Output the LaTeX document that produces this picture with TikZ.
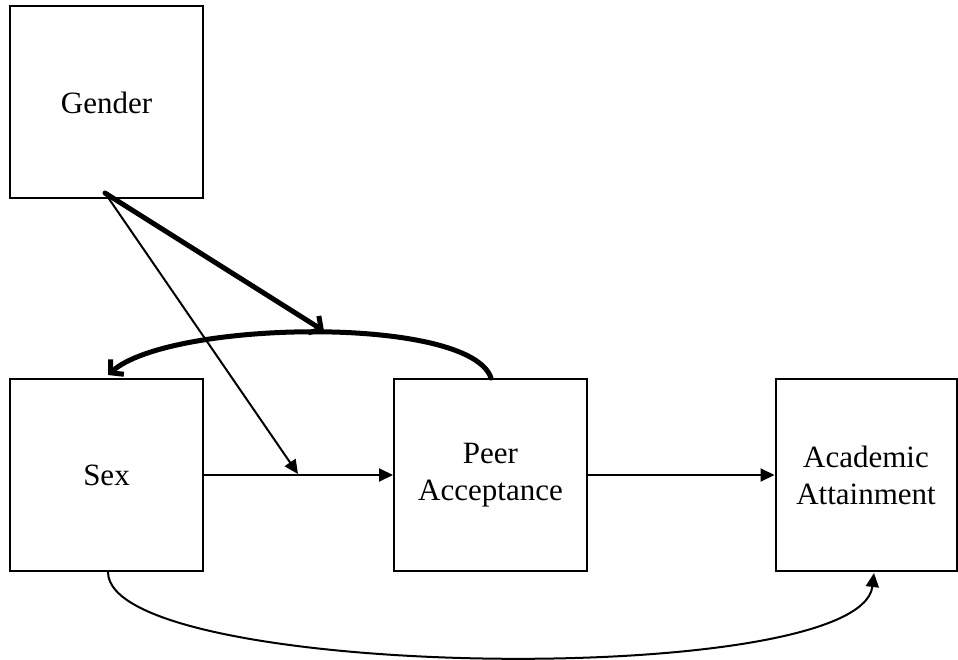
\documentclass[tikz,border=0pt]{standalone}
\usepackage{fontspec}
\setmainfont{Liberation Serif}
\usetikzlibrary{arrows.meta}
\begin{document}
\begin{tikzpicture}[x=1pt,y=-1pt,
  box/.style={draw,line width=2pt,inner sep=0pt,align=center,
    minimum width=193pt,minimum height=192pt,
    font=\fontsize{31}{37}\selectfont},
  thinarrow/.style={line width=2pt,-{Triangle[length=14pt,width=13pt]}},
  thickarrow/.style={line width=5pt,line cap=round,-{Straight Barb[length=9pt,width=20pt,line width=5pt]}}]
\useasboundingbox (0,0) rectangle (958,660);
\node[box] (gender) at (106.5,102.5) {Gender};
\node[box] (sex) at (106.5,475) {Sex};
\node[box] (peer) at (490.5,475) {Peer\\Acceptance};
\node[box,minimum width=181pt] (acad) at (866,475) {Academic\\Attainment};
\coordinate (g0) at (105,193);
\coordinate (mid) at (298,474);
\coordinate (ctop) at (324,331);
\coordinate (pstart) at (491,378);
\coordinate (send) at (108,375);
\coordinate (sbot) at (108,572);
\coordinate (abot) at (874,573);
\draw[thinarrow] (sex.east) -- (peer.west);
\draw[thinarrow] (peer.east) -- (acad.west);
\draw[thinarrow] (g0) -- (mid);
\draw[thickarrow] (g0) -- (ctop);
\draw[thickarrow] (pstart) .. controls (470,315) and (170,320) .. (send);
\draw[thinarrow] (sbot) .. controls (108,680) and (860,690) .. (abot);
\end{tikzpicture}
\end{document}
